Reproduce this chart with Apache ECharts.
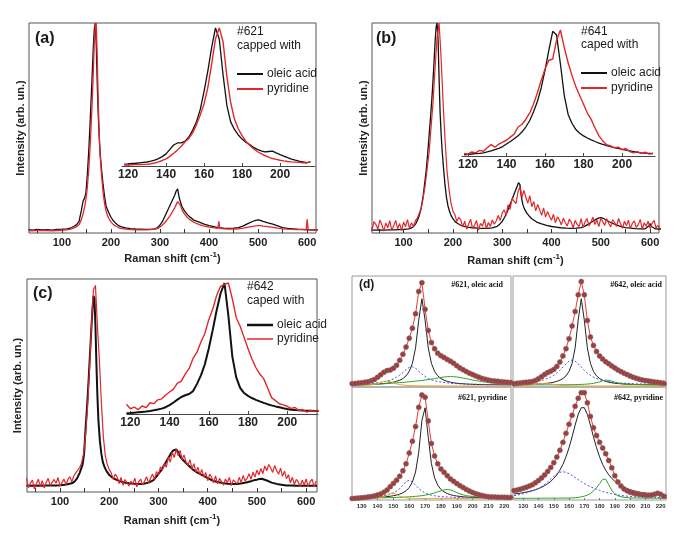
<!DOCTYPE html>
<html>
<head>
<meta charset="utf-8">
<title>Raman spectra</title>
<script src="https://cdn.jsdelivr.net/npm/echarts@6/dist/echarts.min.js"></script>
<style>
  html, body { margin: 0; padding: 0; background: #fff; }
  #main { width: 685px; height: 549px; }
</style>
</head>
<body>
<div id="main"></div>
<script>
// sample positions of the full spectra (cm-1)
var xMain = [32,40,50,60,70,80,90,100,110,115,
  120,125,130,135,140,143,146,149,152,155,
  158,161,164,166,168,170,172,174,176,178,
  181,184,187,190,193,196,200,205,210,215,
  220,230,240,250,260,270,280,290,295,300,
  305,310,315,320,325,330,333,336,339,342,
  345,350,355,360,370,380,390,400,410,418,
  420,422,430,440,450,460,470,480,490,495,
  500,505,510,520,530,540,550,560,570,580,
  590,598,600,602,610,622];

// (a) #621
var aOleic = [1.6,1.4,1.7,1.5,1.6,1.4,1.7,1.8,2.0,2.2,
  2.6,3.2,4.0,5.5,11,15,16.5,19,28,40,
  55,71,88,97,100,90,72,57,46,38,
  30,23,17.5,13,11,9.5,7.5,5.8,4.6,3.6,
  3.0,2.4,2.1,1.9,1.8,1.7,1.7,2.0,2.6,3.8,
  5.5,8,10.5,13,15.5,18,20,21,17,14.5,
  12.5,10.5,9,7.8,6,5.2,4.2,3.5,3,2.6,
  2.5,2.5,2.3,2.2,2.3,2.6,3.4,4.6,5.6,6.0,
  6.2,6.0,5.5,4.8,4.2,3.4,2.6,2.2,2.0,1.8,
  1.7,1.6,1.6,1.6,1.5,1.5];
var aPyr = [1.2,1.0,1.3,1.1,1.2,1.0,1.2,1.3,1.5,1.7,
  2.0,2.4,3.0,4.0,6.5,9,12,16,22,31,
  43,58,76,90,99,100,85,64,48,37,
  27,19.5,14,10.5,8.3,6.8,5.3,4,3.2,2.6,
  2.2,1.8,1.6,1.5,1.5,1.5,1.6,1.8,2.2,2.8,
  3.8,5,6.5,8,10,12,13.5,15,15.5,13,
  11,9,7.6,6.5,5,4,3.3,2.8,2.4,2.2,
  5.5,2.2,2.0,1.9,1.9,2.0,2.3,2.8,3.2,3.4,
  3.5,3.5,3.3,3.0,2.7,2.3,2.0,1.8,1.7,1.6,
  1.6,1.5,6.5,1.5,1.4,1.4];

// (b) #641 and (c) #642, oleic acid
var bOleic = [1.5,1.4,1.5,1.4,1.5,1.5,1.6,1.7,2.0,2.3,
  3.0,4.5,7,11,18,24,30,38,47,56,
  66,78,91,98,100,92,74,58,48,40,
  31,23,17,13,10.5,8.5,6.8,5.3,4.5,3.8,
  3.3,2.8,2.5,2.3,2.2,2.2,2.4,3.2,4.2,5.5,
  7.5,10,13,16,19,22,24,23,17,13.5,
  11.5,9.5,8,6.8,5.2,4.3,3.6,3.1,2.8,2.5,
  2.5,2.4,2.3,2.2,2.3,2.6,3.5,5,6.5,7.1,
  7.3,7,6.2,5,4,3.2,2.6,2.3,2.1,2,
  2,3.5,4.5,3.2,2,1.9];
var cOleic = [3,2.9,3,2.9,3,3,3.1,3.2,3.4,3.6,
  3.9,4.2,5,6.5,9,11,13,18,30,40,
  52,65,78,86,92,91,78,60,45,34,
  24,18,14,12,10.5,9.3,8,7,6.3,5.7,
  5.2,4.5,4.1,3.9,3.8,3.9,4.4,5.6,7,8.5,
  10,12,14,16,18,19.5,20.3,20,19,17.5,
  16.3,15,13.8,12.7,10.5,9,7.8,6.5,5.4,4.8,
  4.7,4.6,4.2,3.9,3.7,3.8,4.1,4.6,5.2,5.6,
  5.8,6.1,6.2,5.4,4.4,3.8,3.4,3.1,3,2.9,
  2.9,2.9,2.9,2.9,2.9,2.9];

// noisy pyridine spectra are read on a finer grid
var xNoisy = [32,36,40,44,48,52,56,60,64,68,
  72,76,80,84,88,92,96,100,104,108,
  112,116,120,124,128,132,136,140,144,148,
  152,156,160,164,168,172,176,180,184,188,
  192,196,200,204,208,212,216,220,224,228,
  232,236,240,244,248,252,256,260,264,268,
  272,276,280,284,288,292,296,300,304,308,
  312,316,320,324,328,332,336,340,344,348,
  352,356,360,364,368,372,376,380,384,388,
  392,396,400,404,408,412,416,420,424,428,
  432,436,440,444,448,452,456,460,464,468,
  472,476,480,484,488,492,496,500,504,508,
  512,516,520,524,528,532,536,540,544,548,
  552,556,560,564,568,572,576,580,584,588,
  592,596,600,604,608,612,616,620];
var bPyr = [3.5,1.2,5.5,4.0,1.8,6.2,3.9,0.9,4.8,2.5,
  5.9,1.3,3.4,6.0,2.0,4.5,1.1,5.2,3.0,6.4,
  2.2,4.9,3.1,5.8,7.2,9.5,12,17,23,31,
  39,51,63,79,93,100,84,63,45,30,
  21,14.5,10.5,8.8,5.5,7.4,6.2,2.9,5.6,1.8,
  4.3,6.5,2.1,3.8,5.9,1.4,4.6,3.2,6.6,2.0,
  5.0,3.1,6.2,4.2,5.8,8.3,6.0,9.5,11.0,8.4,
  13.5,11.2,16.5,15.2,14.0,19.5,22.0,16.8,20.3,17.0,
  14.2,17.8,12.5,15.0,10.5,13.6,11.0,8.4,11.9,7.6,
  10.2,8.0,6.1,8.9,4.8,7.7,6.2,3.9,7.1,5.0,
  3.3,6.6,5.2,2.5,6.0,4.1,3.0,6.8,2.6,5.3,
  6.9,3.4,5.1,7.6,4.0,6.2,3.0,7.0,5.4,3.6,
  6.8,4.5,2.9,6.3,5.0,3.1,6.9,4.4,2.2,5.6,
  3.5,6.1,2.0,4.7,5.8,2.6,4.0,6.5,1.7,4.9,
  3.2,5.7,2.1,4.6,6.0,2.4,3.6,2.0];
var cPyr = [6.5,2.0,4.2,5.6,1.5,3.8,6.0,2.5,5.3,1.9,
  4.6,6.4,3.0,2.2,5.9,4.1,6.8,2.7,4.4,6.1,
  3.4,5.9,7.2,4.8,7.5,9.0,8.2,11.5,13.8,18.0,
  27,40,58,79,95,97,78,62,42,26,
  17,13,10.5,9.0,6.0,8.4,7.1,4.0,6.8,3.2,
  5.9,6.4,2.8,5.0,3.6,6.5,2.4,4.9,6.0,3.3,
  5.2,7.1,4.3,6.5,8.4,5.9,9.6,8.0,11.8,10.2,
  13.4,11.6,16.5,14.0,18.7,16.2,20.0,17.1,19.5,15.3,
  17.4,14.1,12.6,15.2,10.8,13.3,9.1,11.7,8.0,10.6,
  7.0,9.2,5.3,8.4,6.9,4.3,7.6,3.8,6.4,4.9,
  3.2,6.1,4.4,6.8,3.0,5.7,6.5,3.8,6.9,4.5,
  7.8,5.2,6.4,8.6,6.0,9.3,7.0,10.2,8.1,11.0,
  8.6,12.2,10.0,12.9,11.3,9.2,12.4,10.1,8.3,11.2,
  7.4,9.8,6.2,8.1,4.3,6.9,3.5,5.9,4.6,2.7,
  5.6,3.2,6.1,2.5,4.8,6.0,2.4,5.1];

// insets, zoom on the LO band
var xInset = [118,120,122,124,126,128,130,132,134,136,
  138,140,142,144,146,148,150,152,154,156,
  158,160,162,164,166,168,170,172,174,176,
  178,180,182,184,186,188,190,192,194,196,
  198,200,202,204,206,208,210,212,214,216];
var aInOleic = [1.3,1.5,1.8,2.0,2.3,2.6,2.9,3.5,4.3,5.4,
  6.8,8.8,12,15.2,16.7,16.8,18,21,26,32,
  41,54,69,86,100,92,66,44,32,26.5,
  22.5,19.5,17.3,15.5,13.5,12,11,10.2,10.5,10.8,
  9.5,8.3,7.2,6,5,4.2,3.5,3,2.5,2.8];
var aInPyr = [0.5,0.7,0.9,1.0,1.1,1.2,1.2,1.6,2.2,3.0,
  4.0,5.2,7,9.2,11.5,14.3,17.5,20,24,30,
  37,45,57,74,92,100,90,65,46,34,
  27,22,18,15,12.5,10.5,9,7.6,6.5,5.4,
  4.8,4.2,3.7,3.3,3,2.8,2.6,2.4,2.2,3.2];
var bInOleic = [1,1.3,1.6,1.9,2.1,2.5,3.2,4,5,6,
  7.5,9.5,11.5,13.7,16,19,23,28,35,43,
  54,68,84,99,96,73,48,33,26,21,
  18,16,14.3,12.8,11.5,10.3,9.2,8.3,7.5,6.7,
  6,5.3,4.6,4,3.4,2.8,2.5,2.3,2.1,2];
var bInPyr = [2,1.5,3.2,2.5,4.5,3.8,6.5,9,7,9.5,
  11,12.5,15,17.5,23,25,29,34,41,50,
  60,69,76,77,92,100,86,74,64,55,
  48,41,34,29,22,16,12,9,8,6.5,
  7,5,6,3.5,2.5,3.5,2,3,1.5,2];
var cInOleic = [0.5,0.7,1.0,1.3,1.6,1.9,2.3,2.8,3.4,4.1,
  5.2,6.8,8.8,11,13,14.3,15.3,17.5,23,29.5,
  38,50,64,79,92,100,75,44,28,20,
  16,13.8,12.2,10.8,9.6,8.5,7.5,6.6,5.8,5.1,
  4.4,3.8,3.3,3.0,2.8,2.6,2.5,2.4,2.3,2.3];
var cInPyr = [7.5,4.0,5.2,3.3,6.1,4.8,8.6,7.9,10.8,11.6,
  14.5,16.8,19.0,23.5,25.1,30.5,34.8,42.5,47.2,55.0,
  61.5,72.0,80.0,90.5,97.5,99,100,88,73.5,67.0,
  58.5,50.0,42.0,35.5,30.5,27.0,20.0,12.5,10.2,7.8,
  7.0,5.9,4.3,5.0,2.6,3.4,1.5,2.8,1.9,3.0];

// (d) peak fits
var xFit = [124,126,128,130,132,134,136,138,140,142,
  144,146,148,150,152,154,156,158,160,162,
  164,166,168,170,172,174,176,178,180,182,
  184,186,188,190,192,194,196,198,200,202,
  204,206,208,210,212,214,216,218,220,222,
  224];
var tlData = [3.0,3.2,3.5,3.9,4.3,4.8,5.6,6.8,8.7,11,
  13.2,14.8,15.3,16.8,19.5,24,29.5,36,44,53,
  66,86,94,70,51,40,34.5,30.5,28.2,26.5,
  24.8,23.2,21.4,19.2,17.2,15.5,13.9,12.5,11.2,10,
  8.8,7.7,6.9,6.2,5.7,5.4,5.1,4.8,4.5,4.2,
  4.0];
var tlMain = [2.0,2.05,2.1,2.15,2.2,2.3,2.4,2.55,2.7,2.9,
  3.1,3.4,3.8,4.3,5.1,6.1,7.6,10,14,21.3,
  35.3,60.3,79.5,60.3,35.3,21.3,14,10,7.6,6.1,
  5.1,4.3,3.8,3.4,3.1,2.9,2.7,2.55,2.4,2.3,
  2.2,2.15,2.1,2.05,2.0,2.0,1.95,1.9,1.9,1.9,
  1.9];
var tlBlue = [2.55,2.6,2.75,2.8,2.95,3.15,3.3,3.5,3.8,4.2,
  4.7,5.3,6.2,7.3,8.9,10.6,13,15.6,17.7,18.2,
  16.8,14.3,11.7,9.5,7.6,6.5,5.6,5.0,4.4,4.1,
  3.7,3.4,3.2,3.0,2.9,2.8,2.65,2.55,2.5,2.45,
  2.4,2.35,2.3,2.3,2.25,2.2,2.2,2.2,2.15,2.15,
  2.1];
var tlGreen = [1.5,1.6,1.7,1.8,1.9,2.0,2.1,2.3,2.5,2.7,
  2.9,3.1,3.3,3.5,3.7,3.9,4.1,4.4,4.7,5.0,
  5.3,5.6,5.9,6.3,6.7,7.1,7.6,8.1,8.6,9.0,
  9.3,9.4,9.3,9.0,8.6,8.1,7.5,6.9,6.3,5.8,
  5.3,4.8,4.4,4.0,3.7,3.4,3.1,2.9,2.7,2.5,
  2.4];
var tlOrange = [1.2,1.3,1.4,1.5,1.6,1.8,2.0,2.4,3.0,4.0,
  5.0,5.4,4.8,3.7,2.8,2.2,1.8,1.5,1.3,1.2,
  1.1,1.0,1.0,1.0,1.0,1.0,1.0,1.0,1.0,0.9,
  0.9,0.9,0.9,0.9,0.9,0.9,0.9,0.9,0.9,0.9,
  0.8,0.8,0.8,0.8,0.8,0.8,0.8,0.8,0.8,0.8,
  0.8];

var trData = [3.0,3.3,3.6,4.0,4.3,4.6,5.0,5.9,7.5,9.3,
  11.3,13,14.3,15.8,18.5,22.5,28,34.5,43.5,55,
  68,83,95,83,60,45,37.5,32,28,25.2,
  22.8,21,19,17.2,15.4,13.9,12.5,11.2,9.9,8.8,
  7.8,7,6.3,5.8,5.4,5.0,4.6,4.2,3.8,3.4,
  3.2];
var trMain = [2.0,2.05,2.1,2.15,2.2,2.3,2.4,2.55,2.7,2.9,
  3.1,3.4,3.8,4.3,5.1,6.1,7.6,10,14,21.3,
  35.3,60.3,79.5,60.3,35.3,21.3,14,10,7.6,6.1,
  5.1,4.3,3.8,3.4,3.1,2.9,2.7,2.55,2.4,2.3,
  2.2,2.15,2.1,2.05,2.0,2.0,1.95,1.9,1.9,1.9,
  1.9];
var trBlue = [3.15,3.3,3.45,3.6,3.85,4.1,4.4,4.85,5.3,5.9,
  6.7,7.7,8.9,10.5,12.5,15,17.9,20.9,23.3,24.3,
  23.3,20.9,17.9,15,12.5,10.5,8.9,7.7,6.7,5.9,
  5.3,4.85,4.4,4.1,3.85,3.6,3.45,3.3,3.15,3.0,
  2.9,2.8,2.75,2.7,2.6,2.55,2.5,2.45,2.4,2.4,
  2.35];
var trGreen = [1.85,1.85,1.85,1.9,1.9,1.9,1.9,1.95,1.95,1.95,
  1.95,1.95,1.95,1.95,2.0,2.0,2.0,2.0,2.05,2.1,
  2.15,2.25,2.35,2.45,2.65,2.9,3.3,3.9,4.6,5.55,
  6.25,6.05,5.2,4.3,3.6,3.15,2.8,2.6,2.4,2.3,
  2.2,2.15,2.1,2.05,2.0,2.0,1.95,1.95,1.95,1.9,
  1.9];
var trOrange = [1.0,1.1,1.2,1.3,1.5,1.7,2.0,2.4,2.8,3.1,
  3.3,3.2,2.8,2.3,1.9,1.6,1.4,1.2,1.1,1.0,
  1.0,1.0,0.9,0.9,0.9,0.9,0.9,0.9,0.9,0.9,
  0.9,0.9,0.9,0.9,0.9,0.9,0.9,0.9,0.9,0.9,
  0.8,0.8,0.8,0.8,0.8,0.8,0.8,0.8,0.8,0.8,
  0.8];

var blData = [1.3,1.5,1.7,2.0,2.3,2.6,3.0,3.6,4.4,5.4,
  6.8,8.8,11.8,14.7,17.5,21,25.8,32,41.5,52,
  65,82,93,91,70,50,39,32,27.5,24.5,
  21.5,18.6,16.5,14.5,12.7,11,9.4,7.9,6.6,5.6,
  4.7,3.9,3.3,2.9,2.7,2.6,2.5,2.4,2.4,2.3,
  2.3];
var blMain = [1.7,1.75,1.8,1.85,1.9,2.0,2.1,2.2,2.35,2.5,
  2.7,3.0,3.3,3.8,4.35,5.2,6.4,8.15,11.0,15.9,
  24.8,42.2,70.5,81.6,55.5,32.2,19.6,13.1,9.4,7.2,
  5.7,4.7,4.0,3.5,3.15,2.8,2.6,2.4,2.3,2.2,
  2.05,2.0,1.85,1.8,1.75,1.7,1.65,1.6,1.55,1.55,
  1.5];
var blBlue = [2.0,2.1,2.15,2.2,2.35,2.5,2.6,2.8,3.0,3.35,
  3.8,4.3,5.1,6.25,7.9,10.1,13.1,16.1,17.5,16.1,
  13.1,10.1,7.9,6.25,5.1,4.3,3.8,3.35,3.0,2.8,
  2.6,2.5,2.35,2.2,2.15,2.1,2.0,1.95,1.9,1.9,
  1.85,1.85,1.8,1.8,1.75,1.75,1.7,1.7,1.7,1.65,
  1.65];
var blGreen = [1.6,1.65,1.65,1.7,1.7,1.75,1.8,1.85,1.9,1.95,
  2.0,2.05,2.1,2.2,2.3,2.4,2.5,2.65,2.8,3.0,
  3.25,3.5,3.85,4.3,4.85,5.5,6.3,7.2,8.1,8.9,
  9.4,8.9,7.8,6.55,5.45,4.6,3.9,3.45,3.1,2.85,
  2.6,2.45,2.3,2.2,2.1,2.0,1.95,1.9,1.85,1.8,
  1.8];
var blOrange = [1.4,1.4,1.45,1.5,1.55,1.6,1.7,1.8,1.9,2.3,
  3.0,4.2,5.9,6.3,4.8,3.3,2.4,1.9,1.6,1.5,
  1.4,1.4,1.4,1.4,1.4,1.4,1.4,1.4,1.4,1.4,
  1.4,1.4,1.4,1.4,1.4,1.4,1.4,1.4,1.4,1.4,
  1.4,1.4,1.4,1.4,1.4,1.4,1.4,1.4,1.4,1.4,
  1.4];

var brData = [8.3,8.8,9.5,10.3,11.2,12.3,13.6,15.2,17.2,19.5,
  22.2,25.3,28.8,33,38,44,51,59,67,75,
  83,90,95,95,86,74,64,57,51,46,
  41,35,28.5,21.5,16,12.3,9.8,8.1,6.9,6.1,
  5.5,5.0,4.6,4.4,4.3,4.4,5.0,5.9,5.0,3.4,
  2.6];
var brMain = [5.3,5.65,6.05,6.5,7.0,7.6,8.3,9.1,10.1,11.3,
  12.7,14.4,16.5,19.1,22.3,26.4,31.6,38.2,46.3,55.9,
  66.3,75.8,81.7,81.7,75.8,66.3,55.9,46.3,38.2,31.6,
  26.4,22.3,19.1,16.5,14.4,12.7,11.3,10.1,9.1,8.3,
  7.6,7.0,6.5,6.05,5.65,5.3,5.0,4.75,4.5,4.3,
  4.1];
var brBlue = [3.8,4.3,4.9,5.5,6.2,7.0,7.9,9.0,10.3,11.9,
  13.8,16.0,18.5,21.0,23.1,24.5,25.0,24.5,23.3,21.7,
  19.9,18.0,16.2,14.6,13.1,11.8,10.6,9.5,8.5,7.6,
  6.8,6.1,5.5,4.9,4.4,4.0,3.7,3.4,3.2,3.0,
  2.8,2.7,2.6,2.5,2.4,2.3,2.3,2.2,2.2,2.1,
  2.1];
var brGreen = [1.5,1.5,1.5,1.5,1.5,1.5,1.55,1.55,1.55,1.6,
  1.6,1.6,1.6,1.65,1.65,1.65,1.7,1.7,1.7,1.85,
  2.0,2.3,2.8,3.4,4.3,5.8,8.0,10.8,14.3,18.2,
  18.5,13.5,8.5,5.5,3.8,2.9,2.4,2.1,1.9,1.8,
  1.75,1.7,1.7,1.65,1.65,1.6,1.6,1.6,1.6,1.6,
  1.6];

// tick labels
var mainTicks = [100,200,300,400,500,600];
var mainTickMarks = [50,100,150,200,250,300,350,400,450,500,550,600];
var insetTicks = [120,140,160,180,200];
var fitTicks = [130,140,150,160,170,180,190,200,210,220];

(function () {

  var FONT = '"Liberation Sans", Arial, sans-serif';
  var SERIF = '"Liberation Serif", "Times New Roman", serif';
  var BLACK = '#111111';
  var RED = '#e3262b';

  function zip(xs, ys) {
    return xs.map(function (x, i) { return [x, ys[i]]; });
  }

  var page = {
    init: function () {
      var chart = echarts.init(document.getElementById('main'), null, { renderer: 'canvas' });
      chart.setOption({
        animation: false,
        backgroundColor: '#ffffff',
        grid: this.grids(),
        xAxis: this.xAxes(),
        yAxis: this.yAxes(),
        series: this.series(),
        graphic: this.texts().concat(this.keys())
      });
    },

    grids: function () {
      var frame = { show: true, borderColor: '#555', borderWidth: 1, backgroundColor: 'transparent' };
      var light = { show: true, borderColor: '#9a9a9a', borderWidth: 1, backgroundColor: 'transparent' };
      return [
        Object.assign({ id: 'g-a', left: 29, top: 23, width: 287, height: 210 }, frame),
        Object.assign({ id: 'g-b', left: 372, top: 23, width: 287, height: 210 }, frame),
        Object.assign({ id: 'g-c', left: 27, top: 279, width: 290, height: 213 }, frame),
        { id: 'g-a-in', left: 122, top: 28, width: 193, height: 138 },
        { id: 'g-b-in', left: 462, top: 30, width: 193, height: 126 },
        { id: 'g-c-in', left: 127, top: 283, width: 191, height: 131 },
        Object.assign({ id: 'g-d1', left: 352, top: 276, width: 159, height: 111 }, light),
        Object.assign({ id: 'g-d2', left: 513, top: 276, width: 153, height: 111 }, light),
        Object.assign({ id: 'g-d3', left: 352, top: 387, width: 159, height: 113 }, light),
        Object.assign({ id: 'g-d4', left: 513, top: 387, width: 153, height: 113 }, light),
        // second layer over the (a) inset, holds its pyridine curve
        { id: 'g-a-in2', left: 122, top: 28, width: 193, height: 138 }
      ];
    },

    mainX: function (grid, min, max, gap) {
      return {
        type: 'value', gridIndex: grid, min: min, max: max,
        axisLine: { show: false },
        splitLine: { show: false },
        axisTick: { inside: true, length: 4, customValues: mainTickMarks, lineStyle: { color: '#333' } },
        axisLabel: { customValues: mainTicks, margin: 4, fontSize: 11, fontWeight: 'bold', fontFamily: FONT, color: '#222' },
        name: '{t|Raman shift (cm}{s|-1}{t|)}',
        nameLocation: 'middle',
        nameGap: gap,
        nameTextStyle: {
          rich: {
            t: { fontSize: 11, fontWeight: 'bold', fontFamily: FONT, color: '#222', lineHeight: 16 },
            s: { fontSize: 8, fontWeight: 'bold', fontFamily: FONT, color: '#222', lineHeight: 9, verticalAlign: 'top' }
          }
        }
      };
    },

    insetX: function (grid, min, max) {
      return {
        type: 'value', gridIndex: grid, min: min, max: max,
        axisLine: { show: true, lineStyle: { color: '#444', width: 1 } },
        splitLine: { show: false },
        axisTick: { inside: true, length: 3, customValues: insetTicks, lineStyle: { color: '#444' } },
        axisLabel: { customValues: insetTicks, margin: 3, fontSize: 12, fontWeight: 'bold', fontFamily: FONT, color: '#222' }
      };
    },

    fitX: function (grid, min, max, labels) {
      return {
        type: 'value', gridIndex: grid, min: min, max: max,
        axisLine: { show: false },
        splitLine: { show: false },
        axisTick: { show: labels, inside: true, length: 2, customValues: fitTicks, lineStyle: { color: '#777' } },
        axisLabel: { show: labels, customValues: fitTicks, margin: 3, fontSize: 6, fontWeight: 'bold', fontFamily: FONT, color: '#333' }
      };
    },

    xAxes: function () {
      return [
        this.mainX(0, 33, 618, 18),
        this.mainX(1, 36, 618, 20),
        this.mainX(2, 33, 622, 21),
        this.insetX(3, 116.8, 218.4),
        this.insetX(4, 116.9, 217.1),
        this.insetX(5, 118.3, 215.7),
        this.fitX(6, 123.9, 224.2, false),
        this.fitX(7, 123.3, 223.5, false),
        this.fitX(8, 123.9, 224.2, true),
        this.fitX(9, 123.3, 223.5, true),
        { type: 'value', gridIndex: 10, min: 116.8, max: 218.4, show: false }
      ];
    },

    yAxes: function () {
      var axes = [];
      var gaps = [3, 3, 4];
      for (var i = 0; i < 11; i++) {
        var ax = {
          type: 'value', gridIndex: i, min: 0, max: 100,
          axisLine: { show: false }, axisTick: { show: false },
          axisLabel: { show: false }, splitLine: { show: false }
        };
        if (i < 3) {
          ax.name = 'Intensity (arb. un.)';
          ax.nameLocation = 'middle';
          ax.nameRotate = 90;
          ax.nameGap = gaps[i];
          ax.nameTextStyle = { fontSize: 11, fontWeight: 'bold', fontFamily: FONT, color: '#222' };
        } else {
          ax.show = false;
        }
        axes.push(ax);
      }
      return axes;
    },

    line: function (id, xi, xs, ys, color, width, extra) {
      var s = {
        type: 'line', id: id, name: id,
        xAxisIndex: xi, yAxisIndex: xi,
        data: zip(xs, ys),
        showSymbol: false, symbol: 'none',
        silent: true,
        lineStyle: { color: color, width: width },
        itemStyle: { color: color }
      };
      return Object.assign(s, extra || {});
    },

    fitGroup: function (tag, xi, data, main, blue, green, orange) {
      var list = [];
      list.push(this.line(tag + '-main', xi, xFit, main, '#222', 1));
      list.push(this.line(tag + '-low', xi, xFit, blue, '#4b4bf0', 1, { lineStyle: { color: '#4b4bf0', width: 1, type: [2, 2] } }));
      list.push(this.line(tag + '-high', xi, xFit, green, '#2aa52a', 1));
      if (orange) {
        list.push(this.line(tag + '-side', xi, xFit, orange, '#f0a030', 1));
      }
      list.push(this.line(tag + '-data', xi, xFit, data, '#e33b3b', 1, {
        showSymbol: true, symbol: 'circle', symbolSize: 5,
        itemStyle: { color: '#a23c3c', borderColor: '#7d6a6a', borderWidth: 0.6 }
      }));
      return list;
    },

    series: function () {
      var s = [
        this.line('a-oleic', 0, xMain, aOleic, BLACK, 1.3),
        this.line('a-pyr', 0, xMain, aPyr, RED, 1.3, { z: 3 }),
        this.line('b-oleic', 1, xMain, bOleic, BLACK, 1.3),
        this.line('b-pyr', 1, xNoisy, bPyr, RED, 1.2, { z: 3 }),
        this.line('c-oleic', 2, xMain, cOleic, BLACK, 2),
        this.line('c-pyr', 2, xNoisy, cPyr, RED, 1.2, { z: 3 })
      ];
      s = s.concat(this.fitGroup('d1', 6, tlData, tlMain, tlBlue, tlGreen, tlOrange));
      s = s.concat(this.fitGroup('d2', 7, trData, trMain, trBlue, trGreen, trOrange));
      s = s.concat(this.fitGroup('d3', 8, blData, blMain, blBlue, blGreen, blOrange));
      s = s.concat(this.fitGroup('d4', 9, brData, brMain, brBlue, brGreen, null));
      // insets last so they sit on top; their points all lie inside the axis ranges
      s.push(this.line('b-in-oleic', 4, xInset, bInOleic, BLACK, 1.3, { z: 4, clip: false }));
      s.push(this.line('b-in-pyr', 4, xInset, bInPyr, RED, 1.4, { z: 5, clip: false }));
      s.push(this.line('c-in-oleic', 5, xInset, cInOleic, BLACK, 2, { z: 4, clip: false }));
      s.push(this.line('c-in-pyr', 5, xInset, cInPyr, RED, 1.4, { z: 5, clip: false }));
      s.push(this.line('a-in-oleic', 3, xInset, aInOleic, BLACK, 1.3, { z: 4, clip: false }));
      s.push(this.line('a-in-pyr', 10, xInset, aInPyr, RED, 1.4, { z: 5, clip: false }));
      return s;
    },

    // legend keys drawn by hand, one pair for each of (a), (b), (c)
    keys: function () {
      var out = [];
      function key(x, y, color, width, label) {
        out.push({ type: 'line', silent: true, shape: { x1: x, y1: y, x2: x + 26, y2: y }, style: { stroke: color, lineWidth: width } });
        out.push({ type: 'text', silent: true, x: x + 30, y: y, style: { text: label, font: '12px ' + FONT, fill: '#222', verticalAlign: 'middle' } });
      }
      key(237, 74, BLACK, 2, 'oleic acid');
      key(237, 89, RED, 2, 'pyridine');
      key(581, 73, BLACK, 2, 'oleic acid');
      key(581, 88, RED, 2, 'pyridine');
      key(247, 325, BLACK, 2.5, 'oleic acid');
      key(247, 339, RED, 1.5, 'pyridine');
      return out;
    },

    texts: function () {
      function txt(left, top, text, font) {
        return { type: 'text', left: left, top: top, silent: true, style: { text: text, font: font, fill: '#1a1a1a' } };
      }
      function tag(x, y, text) {
        return {
          type: 'text', x: x, y: y, silent: true,
          style: { text: text, font: 'bold 8px ' + SERIF, fill: '#111', align: 'right', verticalAlign: 'middle' }
        };
      }
      var big = 'bold 16px ' + FONT;
      var note = '12px ' + FONT;
      return [
        txt(35, 31, '(a)', big),
        txt(376, 31, '(b)', big),
        txt(33, 286, '(c)', big),
        txt(359, 279, '(d)', 'bold 12px ' + FONT),
        txt(237, 26, '#621', note),
        txt(237, 40, 'capped with', note),
        txt(581, 26, '#641', note),
        txt(581, 39, 'caped with', note),
        txt(247, 281, '#642', note),
        txt(247, 295, 'caped with', note),
        tag(503, 285, '#621, oleic acid'),
        tag(662, 285, '#642, oleic acid'),
        tag(507, 398, '#621, pyridine'),
        tag(663, 398, '#642, pyridine')
      ];
    }
  };

  page.init();

})();
</script>
</body>
</html>
